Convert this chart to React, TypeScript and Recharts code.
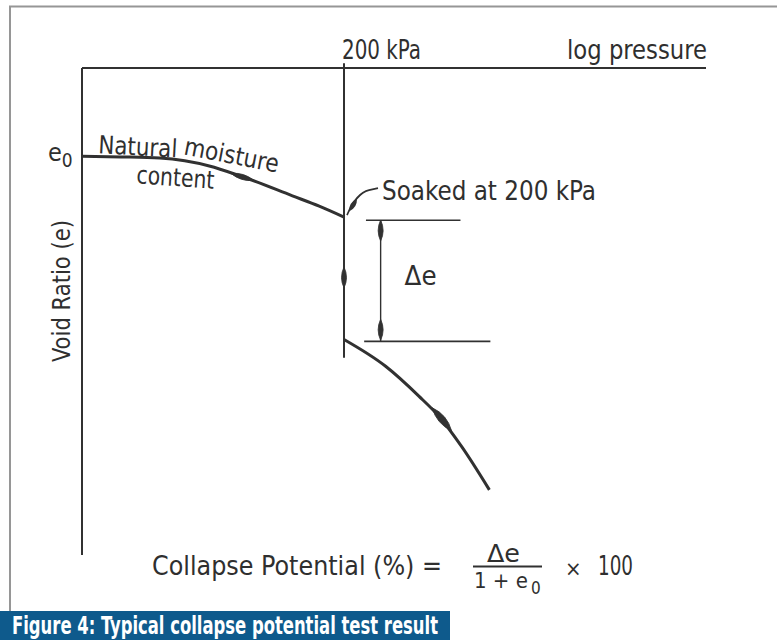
import React from 'react';
import {
  ComposedChart,
  Line,
  Scatter,
  XAxis,
  YAxis,
  ReferenceLine,
  ReferenceDot,
  Customized,
} from 'recharts';

// ---- data (pressure in kPa on a log scale, void ratio e) ----
const pressureTicks = [200];
const pressureDomain = [11, 11000];
const voidRatioDomain = [0.2, 1.0];
const e0 = 0.855;
const voidRatioTicks = [e0];

const curveNatural = [
  { p: 11, e: 0.855 },
  { p: 17, e: 0.854 },
  { p: 26, e: 0.852 },
  { p: 45, e: 0.839 },
  { p: 63, e: 0.823 },
  { p: 113, e: 0.79 },
  { p: 152, e: 0.773 },
  { p: 200, e: 0.755 },
];

const curveSoaked = [
  { p: 200, e: 0.554 },
  { p: 317, e: 0.51 },
  { p: 458, e: 0.461 },
  { p: 571, e: 0.428 },
  { p: 736, e: 0.378 },
  { p: 1000, e: 0.307 },
];

const soakPressure = 200;
const soakLine = [
  { p: 200, e: 0.524 },
  { p: 200, e: 1.008 },
];
const deltaUpper = [
  { p: 255, e: 0.75 },
  { p: 726, e: 0.75 },
];
const deltaLower = [
  { p: 250, e: 0.551 },
  { p: 1011, e: 0.551 },
];
const deltaDim = [
  { p: 300, e: 0.75 },
  { p: 300, e: 0.551 },
];
const deltaMid = { p: 300, e: 0.6505 };

const arrowMarks = [
  { p: 65, e: 0.821, kind: 'natural' },
  { p: 200, e: 0.656, kind: 'collapse' },
  { p: 591, e: 0.423, kind: 'soaked' },
  { p: 300, e: 0.733, kind: 'dimTop' },
  { p: 300, e: 0.57, kind: 'dimBottom' },
];

const labels = {
  pressure: 'log pressure',
  kpa: '200 kPa',
  yTitle: 'Void Ratio (e)',
  natural1a: 'Natural',
  natural1b: 'moisture',
  natural2: 'content',
  soaked: 'Soaked at 200 kPa',
  delta: 'Δe',
  formulaLeft: 'Collapse Potential (%)  =',
  formulaNum: 'Δe',
  formulaDen: '1 + e',
  formulaSub: '0',
  formulaTimes: '×',
  formulaHundred: '100',
  caption: 'Figure 4: Typical collapse potential test result',
};

// ---- styles ----
const INK = '#313131';
const TEXT = '#2f2f2f';
const FONT = "'Liberation Sans Narrow', 'DejaVu Sans Condensed', 'DejaVu Sans', 'Liberation Sans', sans-serif";
const CAPTION_FONT = "'Liberation Sans Narrow', 'DejaVu Sans Condensed', 'Roboto', 'Liberation Sans', sans-serif";

const markStyle: Record<string, { angle: number; len: number; w: number }> = {
  natural: { angle: 17, len: 24, w: 5 },
  collapse: { angle: 90, len: 21, w: 5 },
  soaked: { angle: 50, len: 30, w: 7 },
  dimTop: { angle: 90, len: 21, w: 5 },
  dimBottom: { angle: 90, len: 21, w: 5 },
};

const spindle = (len: number, w: number) =>
  `M ${-len / 2} 0 Q 0 ${-w} ${len / 2} 0 Q 0 ${w} ${-len / 2} 0 Z`;

const Mark = (props: any) => {
  const { cx, cy, payload } = props;
  if (cx == null || cy == null) return null;
  const s = markStyle[payload.kind];
  return (
    <path
      d={spindle(s.len, s.w)}
      transform={`translate(${cx} ${cy}) rotate(${s.angle})`}
      fill={INK}
      stroke={INK}
      strokeWidth={0.8}
    />
  );
};

const PressureTick = (props: any) => {
  const { x, y, payload } = props;
  if (payload.value !== soakPressure) return null;
  return (
    <text
      x={x - 2}
      y={y - 9}
      fontFamily={FONT}
      fontSize={27}
      fill={TEXT}
      textLength={79}
      lengthAdjust="spacingAndGlyphs"
    >
      {labels.kpa}
    </text>
  );
};

const VoidTick = (props: any) => {
  const { x, y } = props;
  return (
    <text x={x - 34} y={y + 5} fontFamily={FONT} fontSize={25} fill={TEXT}>
      e
      <tspan fontSize={19} dy={6}>
        0
      </tspan>
    </text>
  );
};

const PressureLabel = (props: any) => {
  const { viewBox } = props;
  if (!viewBox) return null;
  const { x, y, width, height } = viewBox;
  return (
    <text
      x={x + width + 1}
      y={y + height - 9}
      textAnchor="end"
      fontFamily={FONT}
      fontSize={27}
      fill={TEXT}
      textLength={140}
      lengthAdjust="spacingAndGlyphs"
    >
      {labels.pressure}
    </text>
  );
};

const VoidLabel = (props: any) => {
  const { viewBox } = props;
  if (!viewBox) return null;
  const { x, y, height } = viewBox;
  const cx = x + 70;
  const cy = y + height * 0.458;
  return (
    <text
      x={cx}
      y={cy}
      transform={`rotate(-90 ${cx} ${cy})`}
      textAnchor="middle"
      fontFamily={FONT}
      fontSize={25}
      fill={TEXT}
      textLength={142}
      lengthAdjust="spacingAndGlyphs"
    >
      {labels.yTitle}
    </text>
  );
};

const RotText = ({ x, y, angle, len, size, children }: any) => (
  <text
    x={x}
    y={y}
    transform={`rotate(${angle} ${x} ${y})`}
    fontFamily={FONT}
    fontSize={size}
    fill={TEXT}
    textLength={len}
    lengthAdjust="spacingAndGlyphs"
  >
    {children}
  </text>
);

const NaturalNote = (props: any) => {
  const { cx, cy } = props;
  if (cx == null) return null;
  return (
    <g>
      <RotText x={cx + 16} y={cy - 3} angle={3} len={79} size={25}>
        {labels.natural1a}
      </RotText>
      <RotText x={cx + 101} y={cy - 2} angle={11} len={96} size={25}>
        {labels.natural1b}
      </RotText>
      <RotText x={cx + 54} y={cy + 27} angle={4} len={78} size={25}>
        {labels.natural2}
      </RotText>
    </g>
  );
};

const SoakedNote = (props: any) => {
  const { cx, cy } = props;
  if (cx == null) return null;
  return (
    <g>
      <path
        d={`M ${cx + 3} ${cy - 2} C ${cx + 8} ${cy - 14} ${cx + 16} ${cy - 25} ${cx + 25} ${cy - 27} L ${cx + 34} ${cy - 29}`}
        stroke={INK}
        strokeWidth={1.6}
        fill="none"
      />
      <path
        d={spindle(15, 5)}
        transform={`translate(${cx + 9} ${cy - 12}) rotate(-58)`}
        fill={INK}
      />
      <text
        x={cx + 38}
        y={cy - 17}
        fontFamily={FONT}
        fontSize={27}
        fill={TEXT}
        textLength={214}
        lengthAdjust="spacingAndGlyphs"
      >
        {labels.soaked}
      </text>
    </g>
  );
};

const DeltaNote = (props: any) => {
  const { cx, cy } = props;
  if (cx == null) return null;
  return (
    <text
      x={cx + 24}
      y={cy + 4}
      fontFamily={FONT}
      fontSize={26}
      fill={TEXT}
      textLength={32}
      lengthAdjust="spacingAndGlyphs"
    >
      {labels.delta}
    </text>
  );
};

const Overlay = () => (
  <g>
    {/* page frame */}
    <path d="M 10 611 L 10 6.5 L 777 6.5" stroke="#969696" strokeWidth={2} fill="none" />
    {/* formula */}
    <text
      x={152}
      y={575}
      fontFamily={FONT}
      fontSize={26}
      fill={TEXT}
      textLength={290}
      lengthAdjust="spacingAndGlyphs"
    >
      {labels.formulaLeft}
    </text>
    <text
      x={487}
      y={562}
      fontFamily={FONT}
      fontSize={24}
      fill={TEXT}
      textLength={33}
      lengthAdjust="spacingAndGlyphs"
    >
      {labels.formulaNum}
    </text>
    <line x1={473} y1={566.5} x2={542} y2={566.5} stroke={INK} strokeWidth={2} />
    <text x={474} y={588} fontFamily={FONT} fontSize={22} fill={TEXT}>
      {labels.formulaDen}
    </text>
    <text x={531} y={594} fontFamily={FONT} fontSize={17} fill={TEXT}>
      {labels.formulaSub}
    </text>
    <text x={565} y={576} fontFamily={FONT} fontSize={22} fill={TEXT}>
      {labels.formulaTimes}
    </text>
    <text
      x={598}
      y={575}
      fontFamily={FONT}
      fontSize={26}
      fill={TEXT}
      textLength={35}
      lengthAdjust="spacingAndGlyphs"
    >
      {labels.formulaHundred}
    </text>
    {/* caption */}
    <rect x={0} y={611} width={450} height={29} fill="#0e5a8c" />
    <text
      x={12}
      y={634}
      fontFamily={CAPTION_FONT}
      fontWeight="bold"
      fontSize={24}
      fill="#ffffff"
      textLength={426}
      lengthAdjust="spacingAndGlyphs"
    >
      {labels.caption}
    </text>
  </g>
);

export default function App() {
  return (
    <div style={{ position: 'fixed', left: 0, top: 0, width: 777, height: 640, background: '#ffffff' }}>
      <ComposedChart width={777} height={640} margin={{ top: 0, right: 71, bottom: 85, left: 0 }}>
        <XAxis
          xAxisId={0}
          type="number"
          dataKey="p"
          scale="log"
          domain={pressureDomain}
          allowDataOverflow
          orientation="top"
          height={68}
          ticks={pressureTicks}
          tick={(p: any) => <PressureTick {...p} />}
          tickLine={false}
          tickSize={0}
          tickMargin={0}
          axisLine={{ stroke: INK, strokeWidth: 2 }}
          label={(p: any) => <PressureLabel {...p} />}
        />
        <YAxis
          yAxisId={0}
          type="number"
          dataKey="e"
          domain={voidRatioDomain}
          allowDataOverflow
          width={82}
          ticks={voidRatioTicks}
          tick={(p: any) => <VoidTick {...p} />}
          tickLine={false}
          tickSize={0}
          tickMargin={0}
          axisLine={{ stroke: INK, strokeWidth: 2 }}
          label={(p: any) => <VoidLabel {...p} />}
        />
        <ReferenceLine
          segment={[{ x: soakLine[0].p, y: soakLine[0].e }, { x: soakLine[1].p, y: soakLine[1].e }]}
          stroke={INK}
          strokeWidth={2}
          ifOverflow="visible"
        />
        <ReferenceLine
          segment={[{ x: deltaUpper[0].p, y: deltaUpper[0].e }, { x: deltaUpper[1].p, y: deltaUpper[1].e }]}
          stroke={INK}
          strokeWidth={1.6}
          ifOverflow="visible"
        />
        <ReferenceLine
          segment={[{ x: deltaLower[0].p, y: deltaLower[0].e }, { x: deltaLower[1].p, y: deltaLower[1].e }]}
          stroke={INK}
          strokeWidth={1.6}
          ifOverflow="visible"
        />
        <ReferenceLine
          segment={[{ x: deltaDim[0].p, y: deltaDim[0].e }, { x: deltaDim[1].p, y: deltaDim[1].e }]}
          stroke={INK}
          strokeWidth={1.4}
          ifOverflow="visible"
        />
        <Line
          data={curveNatural}
          dataKey="e"
          type="monotone"
          stroke={INK}
          strokeWidth={3}
          dot={false}
          activeDot={false}
          isAnimationActive={false}
        />
        <Line
          data={curveSoaked}
          dataKey="e"
          type="monotone"
          stroke={INK}
          strokeWidth={3}
          dot={false}
          activeDot={false}
          isAnimationActive={false}
        />
        <Scatter data={arrowMarks} dataKey="e" shape={(p: any) => <Mark {...p} />} isAnimationActive={false} />
        <ReferenceDot
          x={curveNatural[0].p}
          y={curveNatural[0].e}
          r={0}
          ifOverflow="visible"
          shape={(p: any) => <NaturalNote {...p} />}
        />
        <ReferenceDot
          x={curveNatural[curveNatural.length - 1].p}
          y={curveNatural[curveNatural.length - 1].e}
          r={0}
          ifOverflow="visible"
          shape={(p: any) => <SoakedNote {...p} />}
        />
        <ReferenceDot
          x={deltaMid.p}
          y={deltaMid.e}
          r={0}
          ifOverflow="visible"
          shape={(p: any) => <DeltaNote {...p} />}
        />
        <Customized component={<Overlay />} />
      </ComposedChart>
    </div>
  );
}
